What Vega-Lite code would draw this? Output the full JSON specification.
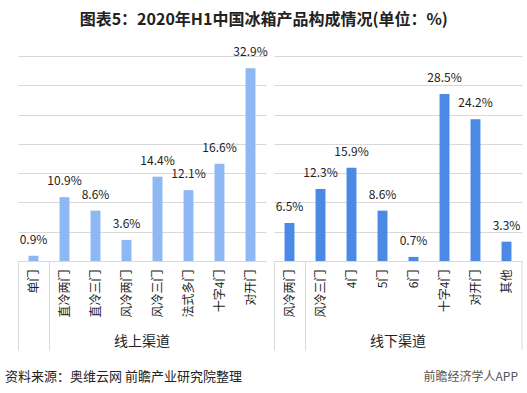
{
  "$schema": "https://vega.github.io/schema/vega-lite/v6.json",
  "padding": {"left": 5, "top": 12, "right": 5, "bottom": 0},
  "background": "white",
  "title": {"text": "图表5：2020年H1中国冰箱产品构成情况(单位：%)", "font": "Noto Sans CJK SC", "fontSize": 16, "fontWeight": "bold", "color": "#222222", "offset": 18, "anchor": "middle"},
  "config": {"view": {"stroke": null}, "font": "Noto Sans CJK SC", "concat": {"spacing": 18}},
  "vconcat": [
    {
      "data": {"values": [
        {"group": "线上渠道", "cat": "单门", "value": 0.9},
        {"group": "线上渠道", "cat": "直冷两门", "value": 10.9},
        {"group": "线上渠道", "cat": "直冷三门", "value": 8.6},
        {"group": "线上渠道", "cat": "风冷两门", "value": 3.6},
        {"group": "线上渠道", "cat": "风冷三门", "value": 14.4},
        {"group": "线上渠道", "cat": "法式多门", "value": 12.1},
        {"group": "线上渠道", "cat": "十字4门", "value": 16.6},
        {"group": "线上渠道", "cat": "对开门", "value": 32.9},
        {"group": "线下渠道", "cat": "风冷两门", "value": 6.5},
        {"group": "线下渠道", "cat": "风冷三门", "value": 12.3},
        {"group": "线下渠道", "cat": "4门", "value": 15.9},
        {"group": "线下渠道", "cat": "5门", "value": 8.6},
        {"group": "线下渠道", "cat": "6门", "value": 0.7},
        {"group": "线下渠道", "cat": "十字4门", "value": 28.5},
        {"group": "线下渠道", "cat": "对开门", "value": 24.2},
        {"group": "线下渠道", "cat": "其他", "value": 3.3}
      ]},
      "transform": [{"calculate": "format(datum.value, '.1f') + '%'", "as": "label"}],
      "facet": {"column": {"field": "group", "type": "nominal", "sort": ["线上渠道", "线下渠道"], "header": {"labelOrient": "bottom", "title": null, "labelFontSize": 14, "labelColor": "#222222", "labelPadding": -16}}},
      "spacing": 0,
      "resolve": {"scale": {"x": "independent"}},
      "spec": {
        "width": 248,
        "height": 205,
        "encoding": {
          "x": {"field": "cat", "type": "nominal", "sort": null, "scale": {"paddingInner": 0, "paddingOuter": 0},
            "axis": {"title": null, "labelAngle": -90, "labelFontSize": 12, "labelColor": "#222222", "labelPadding": -81, "domainColor": "#d9d9d9", "tickBand": "extent", "tickSize": 89, "tickColor": "#d9d9d9", "tickOpacity": {"condition": {"test": "datum.index <= 0", "value": 1}, "value": 0}}},
          "y": {"field": "value", "type": "quantitative", "scale": {"domain": [0, 35]},
            "axis": {"title": null, "labels": false, "ticks": false, "domain": false, "grid": true, "gridColor": "#d9d9d9", "values": [0, 5, 10, 15, 20, 25, 30, 35], "minExtent": 7, "maxExtent": 7}}
        },
        "layer": [
          {"mark": {"type": "bar", "width": {"band": 0.32}}, "encoding": {"color": {"field": "group", "type": "nominal", "scale": {"domain": ["线上渠道", "线下渠道"], "range": ["#8EB8F3", "#4A8AE5"]}, "legend": null}}},
          {"mark": {"type": "text", "dy": -9, "fontSize": 12, "color": "#222222", "baseline": "bottom"}, "encoding": {"text": {"field": "label"}}},
          {"transform": [{"filter": "datum.cat === '其他'"}], "mark": {"type": "rule", "color": "#d9d9d9"}, "encoding": {"x": {"field": "cat", "type": "nominal", "bandPosition": 1}, "y": {"datum": 0}, "y2": {"datum": -15.2}}}
        ]
      }
    },
    {
      "width": 500,
      "height": 16,
      "data": {"values": [
        {"side": "left", "pos": 0, "t": "资料来源：奥维云网 前瞻产业研究院整理"},
        {"side": "right", "pos": 1, "t": "前瞻经济学人APP"}
      ]},
      "encoding": {"x": {"field": "pos", "type": "quantitative", "scale": {"domain": [0, 1]}, "axis": null}, "text": {"field": "t"}},
      "layer": [
        {"transform": [{"filter": "datum.side === 'left'"}], "mark": {"type": "text", "align": "left", "baseline": "middle", "fontSize": 13, "color": "#222222", "dx": -13}},
        {"transform": [{"filter": "datum.side === 'right'"}], "mark": {"type": "text", "align": "right", "baseline": "middle", "fontSize": 12, "color": "#555555"}}
      ]
    }
  ]
}
